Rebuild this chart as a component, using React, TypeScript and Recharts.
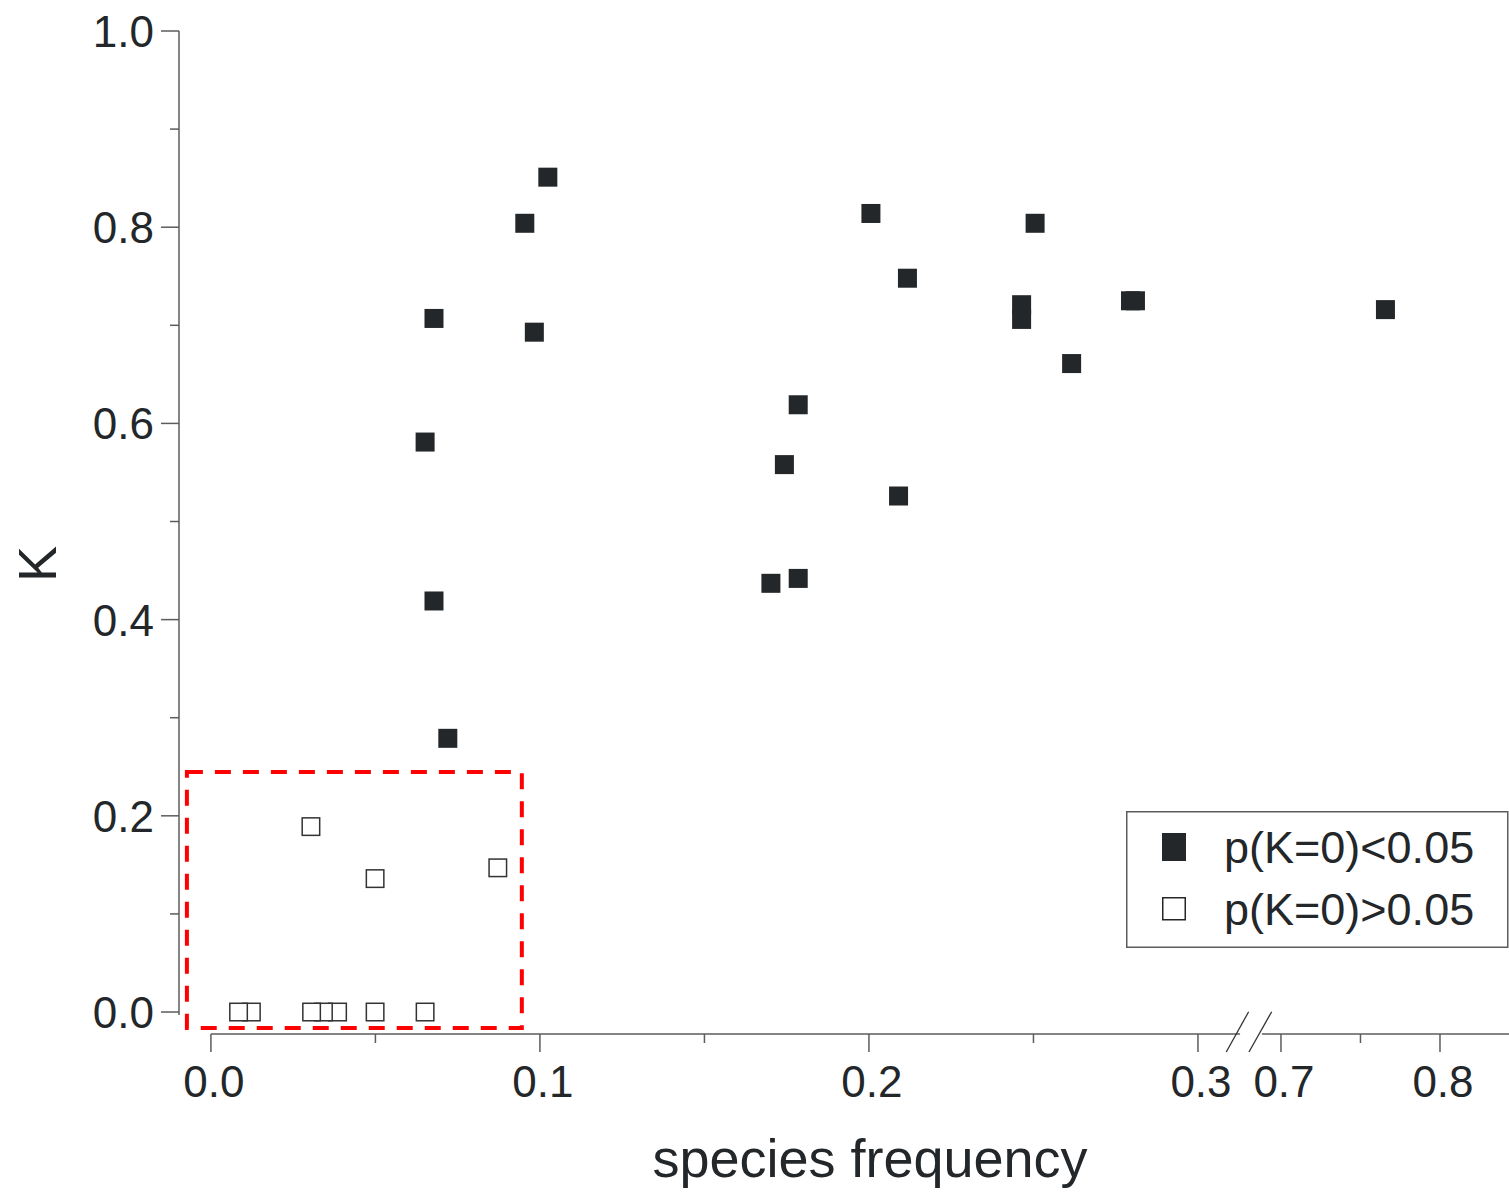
import {
  ScatterChart,
  Scatter,
  XAxis,
  YAxis,
  ReferenceLine,
  ReferenceArea,
  Legend,
} from "recharts";

const FONT = '"Liberation Sans", Arial, Helvetica, sans-serif';
const INK = "#23272a";
const AXIS = "#5c5c5c";

const seriesNames = ["p(K=0)<0.05", "p(K=0)>0.05"];

// p(K=0) < 0.05
const sigFreq = [
  0.0651, 0.0678, 0.0678, 0.072, 0.0954, 0.0983, 0.1024, 0.1702, 0.1743,
  0.1785, 0.1785, 0.2006, 0.209, 0.2117, 0.2464, 0.2464, 0.2505, 0.2616,
  0.2795, 0.281, 0.7657,
];
const sigK = [
  0.581, 0.707, 0.419, 0.279, 0.804, 0.693, 0.851, 0.437, 0.558, 0.619, 0.442,
  0.814, 0.526, 0.748, 0.721, 0.706, 0.804, 0.661, 0.725, 0.725, 0.716,
];

// p(K=0) > 0.05, listed right to left so the left squares sit on top
const nsFreq = [
  0.0872, 0.0651, 0.0499, 0.0499, 0.0385, 0.0342, 0.0306, 0.0304, 0.0123,
  0.0084,
];
const nsK = [0.147, 0, 0.136, 0, 0, 0, 0, 0.189, 0, 0];

const xMajor = [0, 0.1, 0.2, 0.3, 0.7, 0.8];
const xMinor = [0.05, 0.15, 0.25, 0.75];
const yMajor = [0, 0.2, 0.4, 0.6, 0.8, 1.0];
const yMinor = [0.1, 0.3, 0.5, 0.7, 0.9];

// broken x axis: 0..0.31 full scale, then 0.69..0.84 at about half scale
const RIGHT_AT = 0.32523; // axis position of 0.7
const RIGHT_FACTOR = 0.4833;
const toAxis = (v: number) => (v < 0.5 ? v : RIGHT_AT + (v - 0.7) * RIGHT_FACTOR);
const fromAxis = (u: number) => (u < 0.316 ? u : 0.7 + (u - RIGHT_AT) / RIGHT_FACTOR);

const X_MIN = -0.0097;
const X_MAX = toAxis(0.8434);
const Y_MIN = -0.0224;
const LEFT_END = 0.3128;
const RIGHT_BEGIN = toAxis(0.688);

const sigData = sigFreq.map((f, i) => ({ x: toAxis(f), y: sigK[i] }));
const nsData = nsFreq.map((f, i) => ({ x: toAxis(f), y: nsK[i] }));
const xTicks = [...xMajor, ...xMinor].sort((a, b) => a - b).map(toAxis);
const yTicks = [...yMajor, ...yMinor].sort((a, b) => a - b);

const FilledSquare = (props: any) => (
  <rect x={props.cx - 9.5} y={props.cy - 9.5} width={19} height={19} fill={INK} />
);

const OpenSquare = (props: any) => (
  <rect
    x={props.cx - 8.75}
    y={props.cy - 8.75}
    width={17.5}
    height={17.5}
    fill="#fff"
    stroke="#333"
    strokeWidth={1.5}
  />
);

function YTick(props: any) {
  const { x, y, payload } = props;
  const v = payload.value;
  const major = Math.round(v * 10) % 2 === 0;
  return (
    <g>
      <line x1={x - (major ? 18 : 9)} x2={x} y1={y} y2={y} stroke={AXIS} strokeWidth={1.5} />
      {major && (
        <text x={x - 25} y={y + 16} textAnchor="end" fontSize={44} fill={INK} fontFamily={FONT}>
          {v.toFixed(1)}
        </text>
      )}
    </g>
  );
}

function XTick(props: any) {
  const { x, y, payload } = props;
  const v = fromAxis(payload.value);
  const major = Math.round(v * 100) % 10 === 0;
  return (
    <g>
      <line x1={x} x2={x} y1={y} y2={y + (major ? 18 : 9)} stroke={AXIS} strokeWidth={1.5} />
      {major && (
        <text x={x + 3} y={y + 63} textAnchor="middle" fontSize={44} fill={INK} fontFamily={FONT}>
          {v.toFixed(1)}
        </text>
      )}
    </g>
  );
}

function LegendBox() {
  return (
    <svg width={383} height={137} style={{ display: "block" }}>
      <rect x={0.75} y={0.75} width={381} height={135.5} fill="#fff" stroke={AXIS} strokeWidth={1.5} />
      <rect x={36} y={22} width={24} height={28} fill={INK} />
      <text x={98} y={52} fontSize={45} fill={INK} fontFamily={FONT}>
        {seriesNames[0]}
      </text>
      <rect x={36.75} y={86.75} width={22.5} height={22} fill="#fff" stroke={INK} strokeWidth={1.5} />
      <text x={98} y={114} fontSize={45} fill={INK} fontFamily={FONT}>
        {seriesNames[1]}
      </text>
    </svg>
  );
}

const lineStyle = { stroke: AXIS, strokeWidth: 1.5, ifOverflow: "visible" as const };

export default function App() {
  return (
    <div style={{ position: "absolute", left: 0, top: 0, width: 1509, height: 1192, background: "#fff" }}>
      <ScatterChart width={1509} height={1192} margin={{ top: 31, right: 0, left: 0, bottom: 58 }}>
        <XAxis
          type="number"
          dataKey="x"
          domain={[X_MIN, X_MAX]}
          ticks={xTicks}
          interval={0}
          height={100}
          axisLine={false}
          tickLine={false}
          tickSize={0}
          tickMargin={0}
          tick={(p: any) => <XTick {...p} />}
          label={() => (
            <text x={870} y={1177} textAnchor="middle" fontSize={54} fill={INK} fontFamily={FONT}>
              species frequency
            </text>
          )}
        />
        <YAxis
          type="number"
          dataKey="y"
          domain={[Y_MIN, 1]}
          ticks={yTicks}
          interval={0}
          width={179}
          axisLine={false}
          tickLine={false}
          tickSize={0}
          tickMargin={0}
          tick={(p: any) => <YTick {...p} />}
          label={() => (
            <text
              x={56}
              y={564}
              transform="rotate(-90 56 564)"
              textAnchor="middle"
              fontSize={54}
              fill={INK}
              fontFamily={FONT}
            >
              K
            </text>
          )}
        />
        <ReferenceLine segment={[{ x: X_MIN, y: -0.003 }, { x: X_MIN, y: 1 }]} {...lineStyle} />
        <ReferenceLine segment={[{ x: 0, y: Y_MIN }, { x: LEFT_END, y: Y_MIN }]} {...lineStyle} />
        <ReferenceLine segment={[{ x: RIGHT_BEGIN, y: Y_MIN }, { x: X_MAX, y: Y_MIN }]} {...lineStyle} />
        <ReferenceLine segment={[{ x: 0.3086, y: -0.0408 }, { x: 0.3154, y: 0.0003 }]} stroke="#333" strokeWidth={1.3} ifOverflow="visible" />
        <ReferenceLine segment={[{ x: 0.3155, y: -0.0408 }, { x: 0.3224, y: 0.0003 }]} stroke="#333" strokeWidth={1.3} ifOverflow="visible" />
        <ReferenceArea
          x1={toAxis(-0.0073)}
          x2={toAxis(0.0945)}
          y1={-0.0163}
          y2={0.2446}
          fill="none"
          fillOpacity={0}
          stroke="#ff0000"
          strokeWidth={4}
          strokeDasharray="16 12"
          ifOverflow="visible"
        />
        <Scatter name={seriesNames[0]} data={sigData} shape={FilledSquare} isAnimationActive={false} />
        <Scatter name={seriesNames[1]} data={nsData} shape={OpenSquare} isAnimationActive={false} />
        <Legend
          layout="vertical"
          align="center"
          verticalAlign="middle"
          content={() => <LegendBox />}
          wrapperStyle={{ position: "absolute", left: 1126, top: 811, width: 383, height: 137 }}
        />
      </ScatterChart>
    </div>
  );
}
